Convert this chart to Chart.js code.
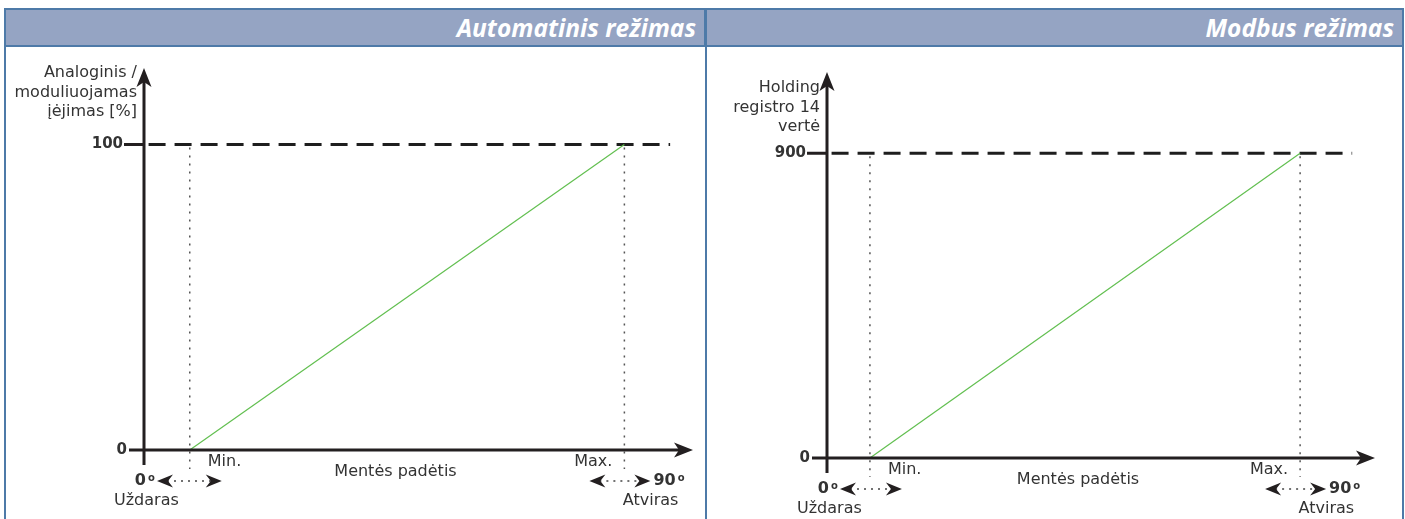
<!DOCTYPE html>
<html>
<head>
<meta charset="utf-8">
<script src="https://cdn.jsdelivr.net/npm/chart.js@4.4.0/dist/chart.umd.min.js"></script>
<style>
  body { margin: 0; background: #fff; width: 1405px; height: 519px; overflow: hidden; position: relative; }
  .frame { position: absolute; left: 4px; top: 8px; width: 1396px; height: 520px; border: 2px solid #4e7aa8; border-bottom: none; }
  .head { position: absolute; top: 0; height: 37px; background: #95a4c3; border-bottom: 2px solid #4e7aa8;
          color: #fff; font: italic bold 24.5px "Open Sans", sans-serif; text-align: right; line-height: 36px; box-sizing: border-box; padding-right: 8px; }
  .h1 { left: 0; width: 700px; border-right: 2px solid #4e7aa8; }
  .h2 { left: 700px; width: 696px; }
  .divider { position: absolute; left: 699px; top: 0; width: 2px; height: 520px; background: #4e7aa8; }
  canvas { position: absolute; top: 0; }
</style>
</head>
<body>
<div class="frame">
  <div class="head h1" id="head1"></div>
  <div class="head h2" id="head2"></div>
  <div class="divider"></div>
</div>
<canvas id="canvas" width="705" height="519" style="left:0"></canvas>
<canvas id="canvas1" width="700" height="519" style="left:705px"></canvas>
<script>
/* duomenys */
const headers = ['Automatinis režimas', 'Modbus režimas'];
const leftX = [10, 105];          // Min., Max. padetis
const leftValues = [0, 100];
const leftTicks = [0, 100];
const rightX = [9.4, 103.6];
const rightValues = [0, 900];
const rightTicks = [0, 900];
const leftYTitle = ['Analoginis /', 'moduliuojamas', 'įėjimas [%]'];
const rightYTitle = ['Holding', 'registro 14', 'vertė'];
const xTitle = 'Mentės padėtis';
const xMarks = ['Min.', 'Max.'];
const endDegrees = ['0', '90'];
const endNames = ['Uždaras', 'Atviras'];
const dashRange = [1, 115];

document.getElementById('head1').textContent = headers[0];
document.getElementById('head2').textContent = headers[1];

const ink = '#231f20';
const txt = '#333333';
const font = '16px "DejaVu Sans"';
const bold = 'bold 15px "DejaVu Sans"';

function arrowHead(ctx, x, y, dir, len, half, notch) {
    // dir: 'up', 'right', 'left'
    ctx.save();
    ctx.translate(x, y);
    if (dir == 'up') ctx.rotate(-Math.PI / 2);
    if (dir == 'left') ctx.rotate(Math.PI);
    ctx.beginPath();
    ctx.moveTo(0, 0);
    ctx.lineTo(-len, -half);
    ctx.lineTo(-len + notch, 0);
    ctx.lineTo(-len, half);
    ctx.closePath();
    ctx.fillStyle = ink;
    ctx.fill();
    ctx.restore();
}

function doubleArrow(ctx, x1, x2, y) {
    ctx.save();
    ctx.strokeStyle = '#444';
    ctx.lineWidth = 1.5;
    ctx.setLineDash([2, 5]);
    ctx.beginPath();
    ctx.moveTo(x1 + 10, y);
    ctx.lineTo(x2 - 10, y);
    ctx.stroke();
    ctx.restore();
    arrowHead(ctx, x1, y, 'left', 16, 6.5, 5);
    arrowHead(ctx, x2, y, 'right', 16, 6.5, 5);
}

const diagram = {
    id: 'diagram',
    afterDatasetsDraw(chart, args, o) {
        const ctx = chart.ctx;
        const xs = chart.scales.x, ys = chart.scales.y;
        const ox = xs.getPixelForValue(0), oy = ys.getPixelForValue(0);
        const tipX = xs.getPixelForValue(xs.max), tipY = ys.getPixelForValue(ys.max);
        const xMin = xs.getPixelForValue(o.xs[0]), xMax = xs.getPixelForValue(o.xs[1]);
        const yTop = ys.getPixelForValue(o.ticks[1]);

        // taskines vertikalios linijos
        ctx.save();
        ctx.strokeStyle = '#555';
        ctx.lineWidth = 1.5;
        ctx.setLineDash([2, 6]);
        [xMin, xMax].forEach(function (x) {
            ctx.beginPath();
            ctx.moveTo(x, yTop + 3);
            ctx.lineTo(x, oy + 19);
            ctx.stroke();
        });
        ctx.restore();

        // asys
        ctx.save();
        ctx.strokeStyle = ink;
        ctx.lineWidth = 3;
        ctx.beginPath();
        ctx.moveTo(ox, oy + 15);
        ctx.lineTo(ox, tipY + 12);
        ctx.moveTo(ox - 15, oy);
        ctx.lineTo(tipX - 12, oy);
        ctx.moveTo(ox - 20, yTop);
        ctx.lineTo(ox, yTop);
        ctx.stroke();
        ctx.restore();
        arrowHead(ctx, ox, tipY, 'up', 19, 7.5, 5);
        arrowHead(ctx, tipX, oy, 'right', 19, 7.5, 5);

        // tekstai
        ctx.save();
        ctx.fillStyle = txt;
        ctx.textBaseline = 'middle';
        ctx.font = bold;
        ctx.textAlign = 'right';
        ctx.fillText(String(o.ticks[1]), ox - 21, yTop);
        ctx.fillText(String(o.ticks[0]), ox - 17, oy);

        ctx.font = font;
        o.title.forEach(function (line, i) {
            ctx.fillText(line, ox - 7, tipY + 5 + i * 19.5 + o.titleShift);
        });

        ctx.textAlign = 'left';
        ctx.fillText(xMarks[0], xMin + 18, oy + 12);
        ctx.textAlign = 'right';
        ctx.fillText(xMarks[1], xMax - 12, oy + 12);
        ctx.textAlign = 'center';
        ctx.fillText(xTitle, (ox + tipX) / 2 - 23, oy + 22);

        // 0 ir 90 laipsniu zymes
        const ay = oy + 31;
        ctx.font = 'bold 16px "DejaVu Sans"';
        ctx.textAlign = 'right';
        ctx.fillText(endDegrees[0], ox + 2, ay);
        ctx.font = 'bold 10px "DejaVu Sans"';
        ctx.textAlign = 'left';
        ctx.fillText('o', ox + 4, ay - 3);
        ctx.font = font;
        ctx.textAlign = 'left';
        ctx.fillText(endNames[0], ox - 30, ay + 20);

        const rx = xMax + 29;
        ctx.font = 'bold 16px "DejaVu Sans"';
        ctx.fillText(endDegrees[1], rx, ay);
        const w = ctx.measureText(endDegrees[1]).width;
        ctx.font = 'bold 10px "DejaVu Sans"';
        ctx.fillText('o', rx + w + 2, ay - 3);
        ctx.font = font;
        ctx.textAlign = 'right';
        ctx.fillText(endNames[1], rx + 25, ay + 20);
        ctx.restore();

        doubleArrow(ctx, ox + 13, xMin + 32, ay);
        doubleArrow(ctx, xMax - 35, xMax + 26, ay);
    }
};

function makeChart(id, xPos, values, ticks, yMax, pad, title, titleShift) {
    new Chart(document.getElementById(id), {
        type: 'line',
        data: {
            datasets: [{
                data: xPos.map(function (x, i) { return { x: x, y: values[i] }; }),
                borderColor: '#62bf50',
                borderWidth: 1.2,
                pointRadius: 0,
                clip: false
            },
            {
                data: dashRange.map(function (x) { return { x: x, y: ticks[1] }; }),
                borderColor: '#1e1e1e',
                borderWidth: 3,
                borderDash: [17, 9],
                pointRadius: 0,
                clip: false
            }]
        },
        options: {
            responsive: false,
            animation: false,
            layout: { padding: pad },
            scales: {
                x: { type: 'linear', display: false, min: 0, max: 120 },
                y: { type: 'linear', display: false, min: 0, max: yMax }
            },
            plugins: {
                legend: { display: false },
                tooltip: { enabled: false },
                diagram: { xs: xPos, ticks: ticks, title: title, titleShift: titleShift }
            }
        },
        plugins: [diagram]
    });
}

makeChart('canvas', leftX, leftValues, leftTicks, 125, { left: 144, right: 12, top: 68, bottom: 69 }, leftYTitle, 0);
makeChart('canvas1', rightX, rightValues, rightTicks, 1140, { left: 122, right: 30, top: 72, bottom: 61 }, rightYTitle, 11);
</script>
</body>
</html>
